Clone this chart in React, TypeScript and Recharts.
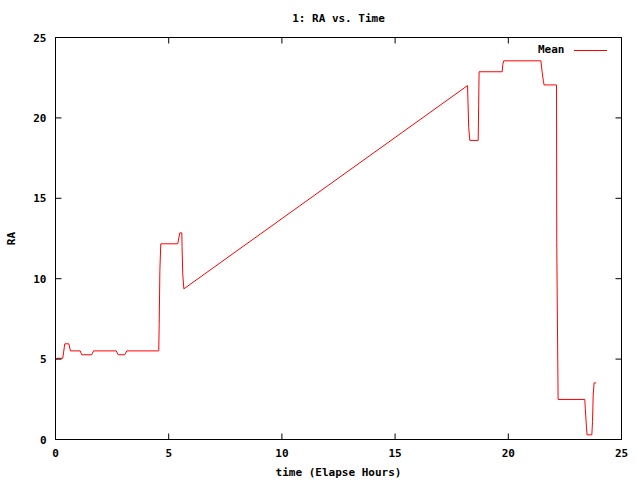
import React from 'react';
import { LineChart, Line, XAxis, YAxis, Legend, Label } from 'recharts';

// elapsed hours
const hours = [
    0, 0.06, 0.32, 0.41, 0.59, 0.66, 1.09, 1.16, 1.6, 1.68, 2.68, 2.77, 3.06, 3.15,
    4.56, 4.58, 4.61, 4.65, 5.4, 5.49, 5.58, 5.59, 5.62, 5.67,
    18.2, 18.25, 18.3, 18.67, 18.69, 18.71, 19.73, 19.76, 19.8,
    21.44, 21.5, 21.55, 21.58, 22.13, 22.14, 22.2,
    23.38, 23.4, 23.45, 23.48, 23.69, 23.72, 23.75, 23.79, 23.88,
];

// mean RA at each time
const meanRA = [
    4.95, 5.05, 5.05, 5.95, 5.95, 5.51, 5.51, 5.27, 5.27, 5.51, 5.51, 5.27, 5.27, 5.51,
    5.51, 7.15, 10.5, 12.17, 12.17, 12.85, 12.85, 12.0, 10.3, 9.37,
    22.01, 19.42, 18.6, 18.6, 20.73, 22.87, 22.87, 23.34, 23.55,
    23.55, 22.8, 22.28, 22.05, 22.05, 12.27, 2.49,
    2.49, 1.95, 0.83, 0.29, 0.29, 1.12, 2.76, 3.52, 3.52,
];

const xTicks = [0, 5, 10, 15, 20, 25];
const yTicks = [0, 5, 10, 15, 20, 25];

const title = '1: RA vs. Time';
const xTitle = 'time (Elapse Hours)';
const yTitle = 'RA';
const seriesName = 'Mean';

const chartData = hours.map((t, i) => ({ t, ra: meanRA[i] }));

const font = '"DejaVu Sans Mono", monospace';
const textStyle = { fontFamily: font, fontSize: 11, fontWeight: 700, fill: '#000' };
const TICK = 6;
const GAP = 9;

// gnuplot style: ticks point into the plot, on all four sides
const BottomTick = (props: any) => {
    const { x, y, payload } = props;
    return (
        <g>
            <line x1={x} x2={x} y1={y - GAP} y2={y - GAP - TICK} stroke="#000" />
            <text x={x} y={y + 8} textAnchor="middle" style={textStyle}>{payload.value}</text>
        </g>
    );
};

const LeftTick = (props: any) => {
    const { x, y, payload } = props;
    return (
        <g>
            <line x1={x + GAP} x2={x + GAP + TICK} y1={y} y2={y} stroke="#000" />
            <text x={x} y={y + 4} textAnchor="end" style={textStyle}>{payload.value}</text>
        </g>
    );
};

const TopTick = (props: any) => {
    const { x, y } = props;
    return <line x1={x} x2={x} y1={y} y2={y + TICK} stroke="#000" />;
};

const RightTick = (props: any) => {
    const { x, y } = props;
    return <line x1={x} x2={x - TICK} y1={y} y2={y} stroke="#000" />;
};

const GnuLegend = () => (
    <div style={{ display: 'flex', alignItems: 'center', fontFamily: font, fontSize: 11, fontWeight: 700, color: '#000' }}>
        <span>{seriesName}</span>
        <svg width={42} height={10} style={{ display: 'block' }}>
            <line x1={9} x2={42} y1={5.5} y2={5.5} stroke="#ff0000" strokeWidth={1} />
        </svg>
    </div>
);

const YTitle = (props: any) => {
    const vb = props.viewBox || { x: 0, y: 0, width: 0, height: 0 };
    const cx = vb.x + 15;
    const cy = vb.y + vb.height / 2;
    return (
        <text x={cx} y={cy} transform={`rotate(-90, ${cx}, ${cy})`} textAnchor="middle" style={textStyle}>
            {yTitle}
        </text>
    );
};

const TopTitle = (props: any) => {
    const vb = props.viewBox || { x: 0, y: 0, width: 0, height: 0 };
    return (
        <text x={vb.x + vb.width / 2} y={vb.y + vb.height - 16} textAnchor="middle" style={textStyle}>
            {title}
        </text>
    );
};

const App: React.FC = () => {
    return (
        <div style={{ position: 'absolute', left: 0, top: 0, width: 640, height: 480, background: '#fff' }}>
            <LineChart
                width={640}
                height={480}
                data={chartData}
                margin={{ top: 36.5, right: 17.5, left: 0, bottom: 0 }}
            >
                <XAxis
                    xAxisId="b"
                    dataKey="t"
                    type="number"
                    domain={[0, 25]}
                    ticks={xTicks}
                    allowDataOverflow
                    height={40.5}
                    tickLine={false}
                    tickSize={0}
                    tickMargin={GAP}
                    stroke="#000"
                    tick={<BottomTick />}
                >
                    <Label value={xTitle} position="insideBottom" offset={4} style={textStyle} />
                </XAxis>
                <XAxis
                    xAxisId="t"
                    orientation="top"
                    dataKey="t"
                    type="number"
                    domain={[0, 25]}
                    ticks={xTicks}
                    allowDataOverflow
                    height={1}
                    tickLine={false}
                    tickSize={0}
                    tickMargin={0}
                    stroke="#000"
                    tick={<TopTick />}
                >
                    <Label content={<TopTitle />} />
                </XAxis>
                <YAxis
                    yAxisId="l"
                    type="number"
                    domain={[0, 25]}
                    ticks={yTicks}
                    allowDataOverflow
                    width={55.5}
                    tickLine={false}
                    tickSize={0}
                    tickMargin={GAP}
                    stroke="#000"
                    tick={<LeftTick />}
                >
                    <Label content={<YTitle />} />
                </YAxis>
                <YAxis
                    yAxisId="r"
                    orientation="right"
                    type="number"
                    domain={[0, 25]}
                    ticks={yTicks}
                    allowDataOverflow
                    width={1}
                    tickLine={false}
                    tickSize={0}
                    tickMargin={0}
                    stroke="#000"
                    tick={<RightTick />}
                />
                <Legend
                    layout="vertical"
                    align="center"
                    verticalAlign="middle"
                    content={<GnuLegend />}
                    wrapperStyle={{ top: 43, left: 538, width: 'auto' }}
                />
                <Line
                    xAxisId="b"
                    yAxisId="l"
                    type="linear"
                    dataKey="ra"
                    name={seriesName}
                    stroke="#ff0000"
                    strokeWidth={1}
                    dot={false}
                    activeDot={false}
                    isAnimationActive={false}
                />
            </LineChart>
        </div>
    );
};

export default App;
